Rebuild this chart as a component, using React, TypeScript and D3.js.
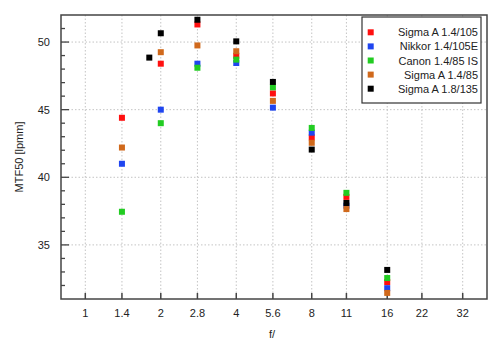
import React from 'react';
import * as d3 from 'd3';

// f-numbers where each lens was measured
const stops = [1.4, 2, 2.8, 4, 5.6, 8, 11, 16];
const stops135 = [1.8, 2, 2.8, 4, 5.6, 8, 11, 16];

// MTF50 values in lp/mm
const sigma105 = [44.4, 48.4, 51.3, 48.98, 46.2, 42.95, 38.55, 32.25];
const nikkor105 = [41.0, 45.0, 48.4, 48.45, 45.15, 43.3, 37.9, 31.8];
const canon85 = [37.45, 44.0, 48.1, 48.7, 46.65, 43.65, 38.85, 32.55];
const sigma85 = [42.2, 49.25, 49.75, 49.32, 45.65, 42.55, 37.65, 31.45];
const sigma135 = [48.85, 50.65, 51.65, 50.05, 47.05, 42.05, 38.1, 33.15];

const xTicks = [1, 1.4, 2, 2.8, 4, 5.6, 8, 11, 16, 22, 32];
const yMajor = [35, 40, 45, 50];

const series = [
  { name: 'Sigma A 1.4/105', color: '#ff1010', x: stops, y: sigma105 },
  { name: 'Nikkor 1.4/105E', color: '#1f45f0', x: stops, y: nikkor105 },
  { name: 'Canon 1.4/85 IS', color: '#22cc22', x: stops, y: canon85 },
  { name: 'Sigma A 1.4/85', color: '#d0691c', x: stops, y: sigma85 },
  { name: 'Sigma A 1.8/135', color: '#000000', x: stops135, y: sigma135 },
];

const W = 500;
const H = 351;
const margin = { top: 15, right: 13, bottom: 52, left: 61 };
const font = '"Liberation Sans", Arial, sans-serif';

const App = () => {
  const x = d3.scaleLog().domain([0.8, 40]).range([margin.left, W - margin.right]);
  const y = d3.scaleLinear().domain([31, 52]).range([H - margin.bottom, margin.top]);
  const yMinor = d3.range(32, 52);
  const size = 6;

  const [x0, x1] = x.range();
  const [y0, y1] = y.range();

  return (
    <svg width={W} height={H} style={{ position: 'absolute', left: 0, top: 0, background: '#fff' }}>
      {/* grid */}
      {xTicks.map(t => (
        <line key={'gx' + t} x1={x(t)} x2={x(t)} y1={y1} y2={y0} stroke="#c4c4c4" strokeDasharray="1.5,2" />
      ))}
      {yMajor.map(t => (
        <line key={'gy' + t} x1={x0} x2={x1} y1={y(t)} y2={y(t)} stroke="#c4c4c4" strokeDasharray="1.5,2" />
      ))}

      {/* ticks */}
      {xTicks.map(t => (
        <line key={'tx' + t} x1={x(t)} x2={x(t)} y1={y0} y2={y0 - 6} stroke="#444" strokeWidth={1.5} />
      ))}
      {yMinor.map(t => (
        <line key={'ty' + t} x1={x0} x2={x0 + (t % 5 === 0 ? 8 : 4)} y1={y(t)} y2={y(t)} stroke="#444" strokeWidth={1.3} />
      ))}

      {/* points */}
      {series.map(s =>
        s.y.map((v, i) => (
          <rect key={s.name + i} x={x(s.x[i]) - size / 2} y={y(v) - size / 2} width={size} height={size} fill={s.color} />
        ))
      )}

      {/* frame */}
      <rect x={x0} y={y1} width={x1 - x0} height={y0 - y1} fill="none" stroke="#444" strokeWidth={1.5} />

      {/* tick labels */}
      {xTicks.map(t => (
        <text key={'lx' + t} x={x(t)} y={y0 + 18} textAnchor="middle" fontFamily={font} fontSize={11} fill="#222">
          {t}
        </text>
      ))}
      {yMajor.map(t => (
        <text key={'ly' + t} x={50} y={y(t) + 4} textAnchor="end" fontFamily={font} fontSize={11} fill="#222">
          {t}
        </text>
      ))}

      {/* axis titles */}
      <text x={(x0 + x1) / 2 - 2} y={338} textAnchor="middle" fontFamily={font} fontSize={11} fill="#222">f/</text>
      <text transform={`translate(23,${(y0 + y1) / 2}) rotate(-90)`} textAnchor="middle" fontFamily={font} fontSize={11} fill="#222">
        MTF50 [lpmm]
      </text>

      {/* legend */}
      <g>
        <rect x={362} y={17} width={119} height={86} fill="#fff" stroke="#333" strokeWidth={1.2} />
        {series.map((s, i) => (
          <g key={'lg' + s.name} transform={`translate(0,${32.3 + i * 14.1})`}>
            <rect x={370.7 - size / 2} y={-size / 2} width={size} height={size} fill={s.color} />
            <text x={478} y={4} textAnchor="end" fontFamily={font} fontSize={11} fill="#222">
              {s.name}
            </text>
          </g>
        ))}
      </g>
    </svg>
  );
};

export default App;
